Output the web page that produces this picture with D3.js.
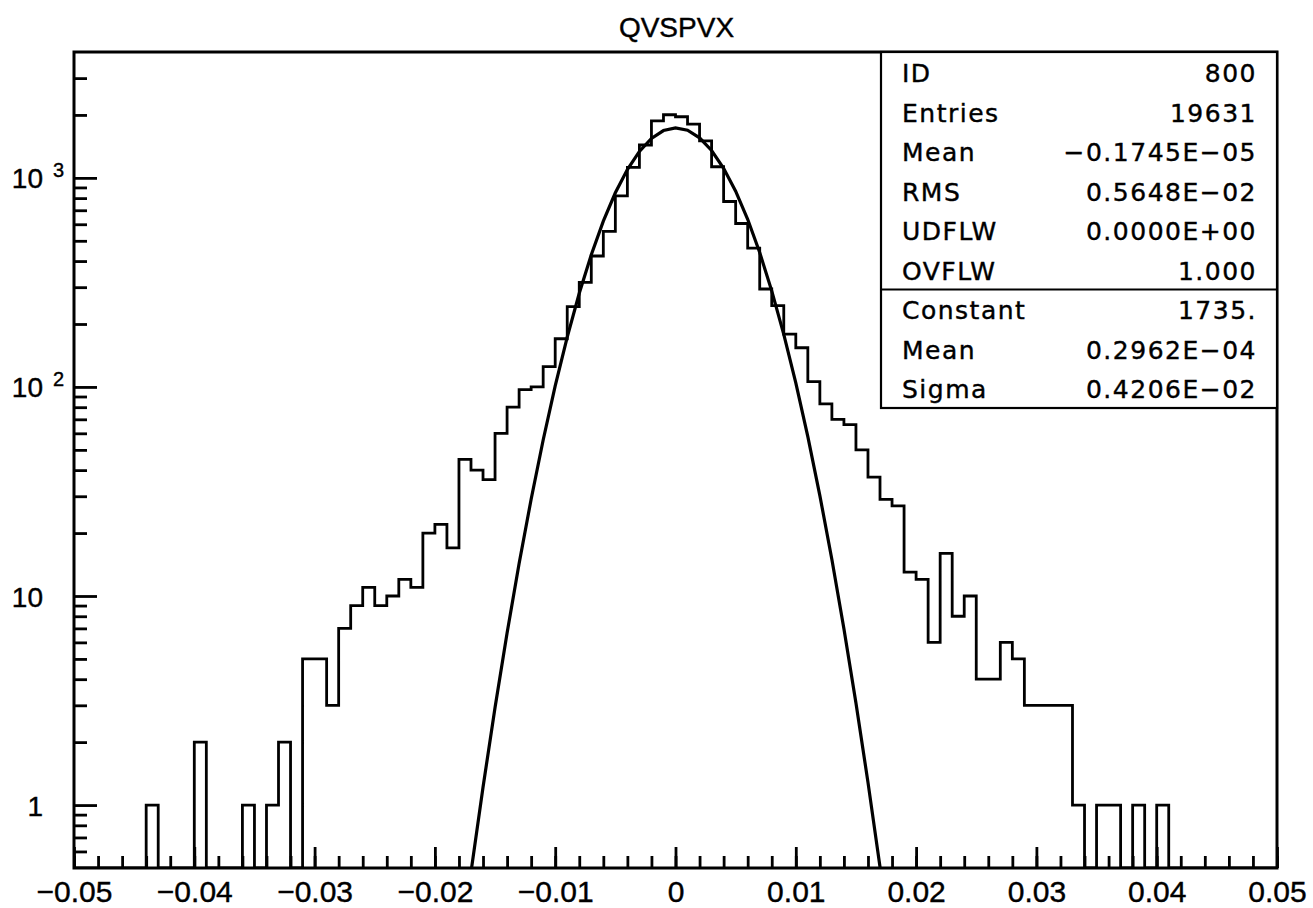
<!DOCTYPE html>
<html>
<head>
<meta charset="utf-8">
<script src="https://cdn.jsdelivr.net/npm/d3@7"></script>
<style>
  body { margin: 0; background: #fff; }
  svg text { fill: #000; stroke: #000; stroke-width: 0.4px; }
</style>
</head>
<body>
<svg id="chart"></svg>
<script>
// histogram 800 (QVSPVX), 100 bins between -0.05 and 0.05
const binLow = -0.05;
const binHigh = 0.05;
const counts = [
  0, 0, 0, 0, 0, 0, 1, 0, 0, 0,
  2, 0, 0, 0, 1, 0, 1, 2, 0, 5,
  5, 3, 7, 9, 11, 9, 10, 12, 11, 20,
  22, 17, 45, 40, 36, 60, 80, 97, 100, 125,
  170, 242, 316, 423, 555, 821, 1122, 1436, 1875, 2004,
  1960, 1807, 1504, 1130, 771, 605, 461, 294, 245, 179,
  154, 106, 83, 70, 66, 50, 37, 29, 27, 13,
  12, 6, 16, 8, 10, 4, 4, 6, 5, 3,
  3, 3, 3, 1, 0, 1, 1, 0, 1, 0,
  1, 0, 0, 0, 0, 0, 0, 0, 0, 0
];

// gaussian fit parameters (from the stats box)
const fitConstant = 1735;
const fitMean = 0.2962e-4;
const fitSigma = 0.4206e-2;

// axis ticks and labels
const xMajor = [-0.05, -0.04, -0.03, -0.02, -0.01, 0, 0.01, 0.02, 0.03, 0.04, 0.05];
const xLabels = ["\u22120.05", "\u22120.04", "\u22120.03", "\u22120.02", "\u22120.01", "0", "0.01", "0.02", "0.03", "0.04", "0.05"];
const yMajor = [1, 10, 100, 1000];
const yBase = ["1", "10", "10", "10"];
const yExp = ["", "", "2", "3"];

// stats box
const statNames = ["ID", "Entries", "Mean", "RMS", "UDFLW", "OVFLW"];
const statValues = ["800", "19631", "\u22120.1745E\u221205", "0.5648E\u221202", "0.0000E+00", "1.000"];
const fitNames = ["Constant", "Mean", "Sigma"];
const fitValues = ["1735.", "0.2962E\u221204", "0.4206E\u221202"];

const title = "QVSPVX";

// layout
const margin = { top: 52, right: 36, bottom: 40, left: 74 };
const width = 1313 - margin.left - margin.right;
const height = 908 - margin.top - margin.bottom;
const axisFont = '"Liberation Sans", Arial, sans-serif';
const boxFont = '"DejaVu Sans", sans-serif';

const svg = d3.select('#chart')
    .attr('width', width + margin.left + margin.right)
    .attr('height', height + margin.top + margin.bottom);

svg.append('text')
    .attr('x', margin.left + width / 2 + 1)
    .attr('y', 37)
    .attr('text-anchor', 'middle')
    .style('font-family', axisFont)
    .style('font-size', '28px')
    .text(title);

const g = svg.append('g')
    .attr('transform', `translate(${margin.left},${margin.top})`);

const x = d3.scaleLinear().domain([binLow, binHigh]).range([0, width]);
const yMin = 0.5;
const y = d3.scaleLog().domain([yMin, 4000]).range([height, 0]);

g.append('clipPath').attr('id', 'plot-clip')
  .append('rect').attr('width', width).attr('height', height);

// x axis: minor ticks every 0.002, major every 0.01
const minorX = d3.range(0, 51).map(i => binLow + i * 0.002);
g.append('g')
    .attr('transform', `translate(0,${height})`)
    .call(d3.axisBottom(x).tickValues(minorX).tickSize(-12).tickFormat(''));
g.append('g')
    .attr('class', 'axis-x')
    .attr('transform', `translate(0,${height})`)
    .call(d3.axisBottom(x).tickValues(xMajor).tickSize(-21).tickPadding(13)
        .tickFormat((d, i) => xLabels[i]));

// y axis: log ticks
const minorY = y.ticks().filter(d => d > yMin && d < 4000 && !yMajor.includes(d));
g.append('g')
    .call(d3.axisLeft(y).tickValues(minorY).tickSize(-13).tickFormat(''));
g.append('g')
    .call(d3.axisLeft(y).tickValues(yMajor).tickSize(-23).tickFormat(''));

g.selectAll('.domain').remove();
g.selectAll('.tick line').attr('stroke', '#000').attr('stroke-width', 2.8);
g.selectAll('.axis-x text')
    .style('font-family', axisFont)
    .style('font-size', '30px');

// y labels, 10 with superscript exponent
const yLab = g.append('g');
yMajor.forEach((v, i) => {
  yLab.append('text')
      .attr('x', -31)
      .attr('y', y(v) + 10.5)
      .attr('text-anchor', 'end')
      .style('font-family', axisFont)
      .style('font-size', '28px')
      .text(yBase[i]);
  if (yExp[i]) {
    yLab.append('text')
        .attr('x', -21)
        .attr('y', y(v) - 0.5)
        .style('font-family', axisFont)
        .style('font-size', '20px')
        .text(yExp[i]);
  }
});

// histogram outline
const binW = (binHigh - binLow) / counts.length;
const steps = [[binLow, yMin]]
    .concat(counts.map((c, i) => [binLow + i * binW, Math.max(c, yMin)]))
    .concat([[binHigh, yMin]]);
const stepLine = d3.line()
    .x(d => x(d[0]))
    .y(d => y(d[1]))
    .curve(d3.curveStepAfter);
g.append('path')
    .attr('clip-path', 'url(#plot-clip)')
    .attr('d', stepLine(steps))
    .attr('fill', 'none')
    .attr('stroke', '#000')
    .attr('stroke-width', 2.8);

// fitted gaussian, evaluated at the bin edges
const fitPoints = d3.range(0, counts.length + 1).map(i => {
  const xv = binLow + i * binW;
  const z = (xv - fitMean) / fitSigma;
  return [xv, fitConstant * Math.exp(-0.5 * z * z)];
});
g.append('path')
    .attr('clip-path', 'url(#plot-clip)')
    .attr('d', d3.line().x(d => x(d[0])).y(d => y(Math.max(d[1], 1e-3)))(fitPoints))
    .attr('fill', 'none')
    .attr('stroke', '#000')
    .attr('stroke-width', 3.2);

// frame
g.append('rect')
    .attr('width', width)
    .attr('height', height)
    .attr('fill', 'none')
    .attr('stroke', '#000')
    .attr('stroke-width', 3);

// stats box
const rowH = 39.5;
const boxX = 807;
const boxW = width - boxX;
const nRows = statNames.length + fitNames.length;
const box = g.append('g');
box.append('rect')
    .attr('x', boxX).attr('y', 0)
    .attr('width', boxW).attr('height', rowH * nRows + 0.5)
    .attr('fill', '#fff')
    .attr('stroke', '#000')
    .attr('stroke-width', 2.2);
box.append('line')
    .attr('x1', boxX).attr('x2', width)
    .attr('y1', rowH * statNames.length + 0.5).attr('y2', rowH * statNames.length + 0.5)
    .attr('stroke', '#000')
    .attr('stroke-width', 2.2);

const names = statNames.concat(fitNames);
const values = statValues.concat(fitValues);
names.forEach((n, i) => {
  const by = i * rowH + 30;
  box.append('text')
      .attr('x', boxX + 21)
      .attr('y', by)
      .style('font-family', boxFont)
      .style('font-size', '25px')
      .style('letter-spacing', '1.5px')
      .text(n);
  box.append('text')
      .attr('x', width - 20)
      .attr('y', by)
      .attr('text-anchor', 'end')
      .style('font-family', boxFont)
      .style('font-size', '25px')
      .style('letter-spacing', '1.5px')
      .text(values[i]);
});
</script>
</body>
</html>
